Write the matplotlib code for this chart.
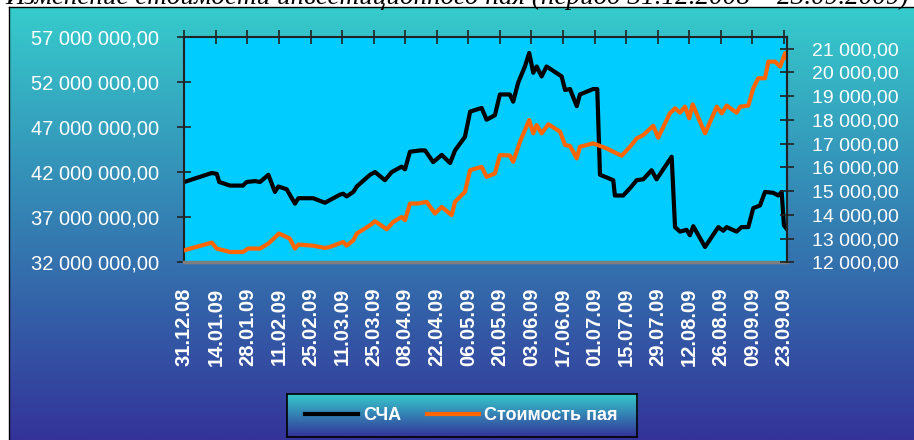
import numpy as np
import matplotlib
matplotlib.use("Agg")
import matplotlib.pyplot as plt
from matplotlib.lines import Line2D
from matplotlib.ticker import FuncFormatter, FixedLocator

# days since 31.12.2008
nav_days = [0, 12.2, 14.4, 15.5, 20.3, 26.0, 27.7, 31.4, 33.6, 37.3, 40.2, 41.7, 45.4, 49.1,
            50.6, 57.2, 62.4, 64.6, 69.1, 70.5, 72.0, 75.0, 76.5, 82.4, 84.6, 89.0, 92.0,
            96.4, 97.9, 100.1, 104.6, 106.8, 110.4, 114.2, 117.9, 120.1, 124.5, 126.8,
            131.9, 134.1, 137.8, 140.0, 144.4, 145.9, 148.1, 151.1, 153.0, 154.8, 156.3,
            158.5, 160.7, 167.4, 168.9, 171.1, 174.1, 175.5, 181.4, 183.2, 184.4, 190.3,
            191.0, 194.7, 197.7, 200.7, 203.6, 207.3, 209.5, 216.2, 217.7, 219.9, 222.8,
            224.3, 225.8, 231.0, 236.9, 239.1, 240.6, 245.0, 247.2, 250.2, 252.4, 255.4,
            257.6, 261.3, 263.5, 265.0, 266.0, 267.2]
# СЧА, млн руб.
nav_mln = [40.9, 41.9, 41.8, 40.9, 40.5, 40.5, 40.9, 41.0, 40.9, 41.7, 39.8, 40.4, 40.1, 38.5,
           39.1, 39.1, 38.6, 38.9, 39.5, 39.6, 39.3, 39.8, 40.4, 41.7, 42.0, 41.1, 42.0,
           42.6, 42.3, 44.25, 44.4, 44.4, 43.1, 43.9, 43.0, 44.4, 45.9, 48.7,
           49.1, 47.8, 48.3, 50.6, 50.6, 49.8, 51.9, 53.7, 55.2, 53.0, 53.7,
           52.6, 53.7, 52.6, 51.1, 51.2, 49.3, 50.6, 51.2, 51.2, 41.7, 41.1,
           39.4, 39.4, 40.2, 41.1, 41.2, 42.2, 41.2, 43.7, 35.9, 35.4, 35.6,
           35.0, 36.0, 33.7, 35.9, 35.5, 35.9, 35.4, 35.9, 35.9, 38.0, 38.3,
           39.8, 39.7, 39.4, 39.8, 36.1, 35.7]

unit_days = [0, 12.2, 14.4, 20.3, 26.0, 28.3, 33.6, 37.3, 42.0, 46.8, 49.1, 50.6, 57.1, 62.4,
             64.6, 70.5, 72.0, 75.0, 76.5, 82.4, 84.6, 89.8, 92.7, 96.4, 97.9, 100.1, 103.8,
             107.5, 111.2, 114.2, 118.6, 120.1, 124.5, 126.8, 131.9, 134.1, 137.8, 140.0,
             144.4, 145.9, 148.9, 153.0, 154.8, 156.3, 158.5, 161.5, 166.7, 168.9, 171.1,
             174.1, 175.5, 181.4, 187.3, 194.0, 197.7, 200.7, 203.6, 208.0, 210.2, 215.4,
             217.7, 219.9, 222.1, 224.0, 225.5, 231.0, 236.2, 238.4, 240.6, 245.0, 246.6,
             250.2, 252.4, 254.6, 257.6, 259.1, 262.1, 264.3, 266.5, 267.2]
# Стоимость пая, руб.
unit_values = [12506, 12830, 12578, 12435, 12435, 12578, 12578, 12789, 13211, 13000, 12578,
               12747, 12700, 12605, 12646, 12857, 12700, 12928, 13211, 13561, 13730, 13392,
               13700, 13911, 13772, 14477, 14477, 14545, 14055, 14333, 13983, 14545, 14967,
               15882, 16020, 15600, 15740, 16515, 16500, 16232, 17076, 17991, 17430, 17780,
               17430, 17810, 17500, 16937, 16900, 16375, 16865, 17008, 16797, 16485, 16865,
               17218, 17360, 17750, 17245, 18274, 18485, 18300, 18553, 18063, 18654, 17430,
               18553, 18270, 18600, 18300, 18553, 18600, 19330, 19750, 19750, 20450, 20450,
               20240, 20805, 20620]

date_labels = ["31.12.08", "14.01.09", "28.01.09", "11.02.09", "25.02.09", "11.03.09",
               "25.03.09", "08.04.09", "22.04.09", "06.05.09", "20.05.09", "03.06.09",
               "17.06.09", "01.07.09", "15.07.09", "29.07.09", "12.08.09", "26.08.09",
               "09.09.09", "23.09.09"]
date_ticks = [14 * i for i in range(len(date_labels))]

left_ticks = [32e6, 37e6, 42e6, 47e6, 52e6, 57e6]
right_ticks = list(range(12000, 21001, 1000))

TITLE = "Изменение стоимости инвестиционного пая (период 31.12.2008 – 23.09.2009)"
TEAL = np.array([0x36, 0xCC, 0xCC]) / 255
NAVY = np.array([0x33, 0x33, 0x99]) / 255


def ru_money(v, pos=None):
    return f"{v:,.2f}".replace(",", " ").replace(".", ",")


def gradient(ax, top, bottom):
    t = np.linspace(0, 1, 256)[:, None]
    img = top[None, None, :] * (1 - t[..., None]) + bottom[None, None, :] * t[..., None]
    ax.imshow(img, aspect="auto", extent=(0, 1, 0, 1), origin="upper")
    ax.set_xlim(0, 1)
    ax.set_ylim(0, 1)
    ax.set_xticks([])
    ax.set_yticks([])


W, H = 914, 440
fig = plt.figure(figsize=(W / 100, H / 100), dpi=100, facecolor="white")
plt.rcParams["font.family"] = ["Liberation Sans", "DejaVu Sans"]

# chart area with gradient
bg = fig.add_axes([9 / W, 0, 1 - 9 / W, (H - 7) / H])
gradient(bg, TEAL, NAVY)
for side in ["right", "bottom"]:
    bg.spines[side].set_visible(False)
for side in ["left", "top"]:
    bg.spines[side].set_color("black")
    bg.spines[side].set_linewidth(1.0)

# title is clipped by the top edge, as in the source
fig.text(5 / W, 1 - 3.5 / H, TITLE, ha="left", va="baseline", fontsize=19.5,
         fontstyle="italic", family=["Liberation Serif", "DejaVu Serif"], color="black")

# plot area
x0, x1, y0, y1 = 184.3, 787.3, 36.7, 262.3
ax = fig.add_axes([x0 / W, (H - y1) / H, (x1 - x0) / W, (y1 - y0) / H])
ax.set_facecolor("#00CCFF")
ax.plot(nav_days, np.array(nav_mln) * 1e6, color="black", lw=3.0, solid_joinstyle="round")
ax.set_xlim(0, 267.5)
ax.set_ylim(32e6, 57e6)
ax.yaxis.set_major_locator(FixedLocator(left_ticks))
ax.yaxis.set_major_formatter(FuncFormatter(ru_money))
ax.set_xticks(date_ticks)
ax.set_xticklabels(date_labels, rotation=90, fontsize=14.5, fontweight="bold", color="white")
ax.tick_params(axis="x", top=True, bottom=False, direction="inout", length=9.5,
               width=1.2, color="#222222", pad=13.5)
ax.tick_params(axis="y", direction="inout", length=10, width=1.2, color="#222222",
               pad=13, labelsize=14.5, labelcolor="white")
for side in ["left", "top", "right"]:
    ax.spines[side].set_color("#222222")
    ax.spines[side].set_linewidth(1.5)
ax.spines["bottom"].set_color("#7f7f7f")
ax.spines["bottom"].set_linewidth(2.5)

ax2 = ax.twinx()
ax2.plot(unit_days, unit_values, color="#FF6600", lw=3.0, solid_joinstyle="round")
ax2.set_ylim(12000, 21500)
ax2.yaxis.set_major_locator(FixedLocator(right_ticks))
ax2.yaxis.set_major_formatter(FuncFormatter(ru_money))
ax2.tick_params(axis="y", direction="inout", length=10, width=1.2, color="#222222",
                pad=13, labelsize=14, labelcolor="white")
ax2.spines["right"].set_color("#222222")
ax2.spines["right"].set_linewidth(1.5)
ax2.spines["bottom"].set_visible(False)
ax2.spines["top"].set_visible(False)
ax2.spines["left"].set_visible(False)

# legend box
lx0, lx1, ly0, ly1 = 286.7, 636.7, 394, 437
lax = fig.add_axes([lx0 / W, (H - ly1) / H, (lx1 - lx0) / W, (ly1 - ly0) / H])
gradient(lax, TEAL, NAVY)
for s in lax.spines.values():
    s.set_color("black")
    s.set_linewidth(1.2)
handles = [Line2D([], [], color="black", lw=3), Line2D([], [], color="#FF6600", lw=3)]
leg = lax.legend(handles, ["СЧА", "Стоимость пая"], loc="center", ncol=2, frameon=False,
                 handlelength=2.9, handletextpad=0.3, columnspacing=1.4,
                 prop={"size": 13, "weight": "bold"})
for t in leg.get_texts():
    t.set_color("white")

fig.savefig("out.png", dpi=100)
